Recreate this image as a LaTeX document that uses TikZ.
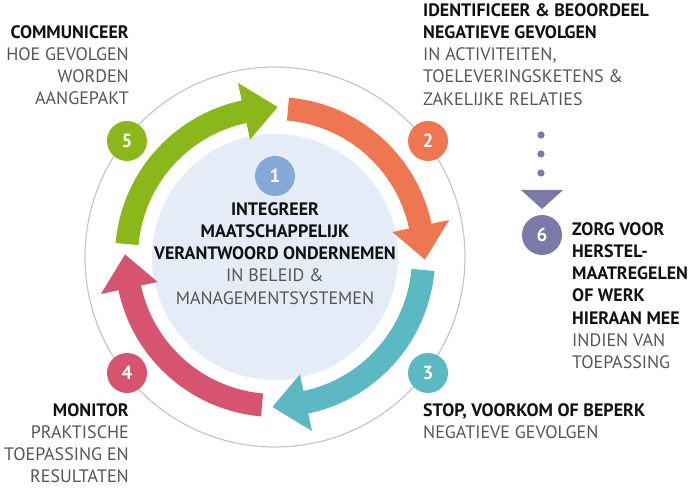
\documentclass[tikz,border=0pt]{standalone}
\usepackage{fontspec}
\setmainfont{PT Sans}
\definecolor{cgreen}{HTML}{8AB81A}
\definecolor{corange}{HTML}{EE7752}
\definecolor{cteal}{HTML}{5CB8C2}
\definecolor{cpink}{HTML}{D6546F}
\definecolor{cblue}{HTML}{86A8D6}
\definecolor{cpurple}{HTML}{7B79A8}
\definecolor{cinner}{HTML}{E6ECF7}
\definecolor{cgray}{HTML}{555555}
\definecolor{cdark}{HTML}{111111}
\tikzset{
  num/.style={circle,fill=#1,text=white,minimum size=40pt,inner sep=0pt,font=\fontsize{19}{19}\selectfont\bfseries},
  lbl/.style={inner sep=0pt,font=\fontsize{18}{22.3}\selectfont,text=cgray},
}
\newcommand{\hd}[1]{{\bfseries\color{cdark}#1}}
\begin{document}
\begin{tikzpicture}[x=1pt,y=1pt]
\useasboundingbox (0,0) rectangle (696,501);
\coordinate (c) at (275,244);
\draw[gray!45,line width=1.2pt] (c) circle[radius=190];
\fill[cinner] (c) circle[radius=123];
\foreach \s/\col in {175/cgreen,85/corange,-5/cteal,-95/cpink}{
  \pgfmathsetmacro{\e}{\s-73}
  \pgfmathsetmacro{\t}{\s-86}
  \fill[\col,shift={(c)}] (\s:160) arc[start angle=\s,end angle=\e,radius=160]
    -- (\e:178) -- (\t:150) -- (\e:120) -- (\e:137)
    arc[start angle=\e,end angle=\s,radius=137] -- cycle;
}
\node[num=cgreen] (n5) at (127,360) {5};
\node[num=corange] (n2) at (428,360) {2};
\node[num=cteal] (n3) at (428,128) {3};
\node[num=cpink] (n4) at (127,128) {4};
\node[num=cblue] (n1) at (275,325) {1};
\node[num=cpurple] (n6) at (542,266) {6};
\node[lbl,align=center,anchor=north] (tc) at (275,299)
 {\hd{INTEGREER}\\\hd{MAATSCHAPPELIJK}\\\hd{VERANTWOORD ONDERNEMEN}\\IN BELEID \&\\MANAGEMENTSYSTEMEN};
\node[lbl,align=right,anchor=north east] (t5) at (129,476)
 {\hd{COMMUNICEER}\\HOE GEVOLGEN\\WORDEN\\AANGEPAKT};
\node[lbl,align=left,anchor=north west] (t2) at (423,498)
 {\hd{IDENTIFICEER \& BEOORDEEL}\\\hd{NEGATIEVE GEVOLGEN}\\IN ACTIVITEITEN,\\TOELEVERINGSKETENS \&\\ZAKELIJKE RELATIES};
\node[lbl,align=left,anchor=north west] (t6) at (572,279)
 {\hd{ZORG VOOR}\\\hd{HERSTEL-}\\\hd{MAATREGELEN}\\\hd{OF WERK}\\\hd{HIERAAN MEE}\\INDIEN VAN\\TOEPASSING};
\node[lbl,align=left,anchor=north west] (t3) at (423,98)
 {\hd{STOP, VOORKOM OF BEPERK}\\NEGATIEVE GEVOLGEN};
\node[lbl,align=right,anchor=north east] (t4) at (129,98)
 {\hd{MONITOR}\\PRAKTISCHE\\TOEPASSING EN\\RESULTATEN};
\foreach \y/\n in {366/d1,347/d2,328/d3}{\fill[cpurple] (541,\y) circle[radius=3.6] coordinate (\n);}
\fill[cpurple] (521,311) -- (563,311) -- (542,292) -- cycle;
\end{tikzpicture}
\end{document}
